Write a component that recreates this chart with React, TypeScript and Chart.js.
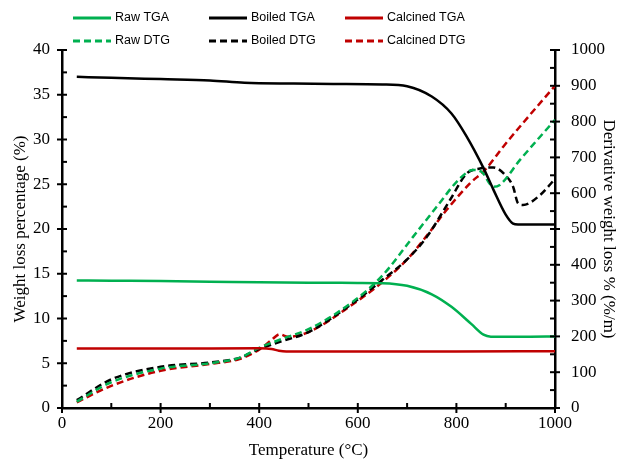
import React, { useEffect, useRef } from 'react';
import { Chart, registerables } from 'chart.js';

Chart.register(...registerables);

// ---- data ----
const rawTgaT = [30, 100, 200, 300, 400, 500, 600, 650, 700, 750, 790, 830, 855, 870, 900, 950, 1000];
const rawTgaV = [14.25, 14.22, 14.18, 14.12, 14.05, 14.0, 13.98, 13.95, 13.65, 12.7, 11.3, 9.4, 8.2, 7.97, 7.95, 7.97, 8.0];

const boiledTgaT = [30, 100, 200, 300, 370, 470, 550, 650, 700, 750, 790, 820, 855, 875, 900, 915, 925, 1000];
const boiledTgaV = [37.0, 36.9, 36.75, 36.6, 36.35, 36.25, 36.2, 36.15, 35.95, 34.8, 32.9, 30.4, 26.8, 24.4, 21.6, 20.6, 20.5, 20.5];

const calcTgaT = [30, 200, 400, 425, 440, 455, 600, 800, 1000];
const calcTgaV = [6.65, 6.65, 6.67, 6.6, 6.4, 6.32, 6.3, 6.3, 6.35];

const rawDtgT = [30, 100, 200, 300, 360, 400, 450, 500, 590, 650, 712, 760, 807, 834, 851, 875, 888, 929, 1000];
const rawDtgV = [18, 72, 110, 125, 140, 168, 195, 220, 297, 370, 478, 562, 641, 665, 660, 618, 623, 693, 805];

const boiledDtgT = [30, 100, 200, 300, 360, 400, 442, 500, 590, 650, 700, 740, 787, 821, 848, 875, 899, 915, 925, 935, 970, 1000];
const boiledDtgV = [22, 80, 115, 127, 140, 165, 185, 212, 293, 358, 415, 478, 581, 655, 669, 672, 651, 618, 572, 567, 595, 640];

const calcDtgT = [30, 100, 200, 300, 360, 400, 425, 442, 458, 500, 590, 650, 700, 733, 780, 828, 858, 895, 935, 1000];
const calcDtgV = [16, 62, 104, 123, 137, 163, 190, 206, 199, 212, 290, 352, 415, 469, 553, 628, 665, 730, 796, 900];

const labels = ['Raw TGA', 'Boiled TGA', 'Calcined TGA', 'Raw DTG', 'Boiled DTG', 'Calcined DTG'];

const GREEN = '#00B050';
const BLACK = '#000000';
const RED = '#C00000';

const pts = (t: number[], v: number[]) => t.map((x, i) => ({ x, y: v[i] }));

const SERIF = '"Times New Roman", "Liberation Serif", serif';
const plain = (v: any) => String(v);

const tickPlugin = {
  id: 'tickMarks',
  afterDraw(chart: any) {
    const ctx = chart.ctx;
    const { x, y, y2 } = chart.scales;
    const a = chart.chartArea;
    ctx.save();
    ctx.strokeStyle = '#000';
    ctx.lineWidth = 2;
    const line = (x1: number, y1: number, x2: number, y2_: number) => {
      ctx.beginPath();
      ctx.moveTo(x1, y1);
      ctx.lineTo(x2, y2_);
      ctx.stroke();
    };
    for (let v = 0; v <= 1000; v += 100) {
      const px = x.getPixelForValue(v);
      if (v % 200 === 0) line(px, a.bottom - 5, px, a.bottom + 5);
      else line(px, a.bottom - 5, px, a.bottom);
    }
    for (let v = 0; v <= 40; v += 2.5) {
      const py = y.getPixelForValue(v);
      if (v % 5 === 0) line(a.left - 5, py, a.left + 5, py);
      else line(a.left, py, a.left + 5, py);
    }
    for (let v = 0; v <= 1000; v += 50) {
      const py = y2.getPixelForValue(v);
      if (v % 100 === 0) line(a.right - 5, py, a.right + 5, py);
      else line(a.right - 5, py, a.right, py);
    }
    ctx.restore();
  },
};

const legendPlugin = {
  id: 'gridLegend',
  afterDraw(chart: any) {
    const ctx = chart.ctx;
    const colX = [73, 209, 345];
    const rowY = [18, 41];
    ctx.save();
    ctx.font = '12.5px "Liberation Sans", Arial, sans-serif';
    ctx.textBaseline = 'middle';
    ctx.textAlign = 'left';
    chart.data.datasets.forEach((ds: any, i: number) => {
      const cx = colX[i % 3];
      const cy = rowY[Math.floor(i / 3)];
      ctx.strokeStyle = ds.borderColor;
      ctx.lineWidth = 3;
      ctx.setLineDash(ds.borderDash || []);
      ctx.beginPath();
      ctx.moveTo(cx, cy);
      ctx.lineTo(cx + 38, cy);
      ctx.stroke();
      ctx.setLineDash([]);
      ctx.fillStyle = '#000';
      ctx.fillText(ds.label, cx + 42, cy);
    });
    ctx.restore();
  },
};

export default function App() {
  const ref = useRef<HTMLCanvasElement>(null);
  useEffect(() => {
    if (!ref.current) return;
    const mk = (i: number, t: number[], v: number[], color: string, axis: string, dashed: boolean) => ({
      label: labels[i],
      data: pts(t, v),
      borderColor: color,
      backgroundColor: color,
      borderWidth: 2.5,
      borderDash: dashed ? [7, 4] : [],
      pointRadius: 0,
      tension: 0.4,
      cubicInterpolationMode: 'monotone',
      yAxisID: axis,
      fill: false,
    });
    const chart = new Chart(ref.current, {
      type: 'line',
      data: {
        datasets: [
          mk(0, rawTgaT, rawTgaV, GREEN, 'y', false),
          mk(1, boiledTgaT, boiledTgaV, BLACK, 'y', false),
          mk(2, calcTgaT, calcTgaV, RED, 'y', false),
          mk(3, rawDtgT, rawDtgV, GREEN, 'y2', true),
          mk(4, boiledDtgT, boiledDtgV, BLACK, 'y2', true),
          mk(5, calcDtgT, calcDtgV, RED, 'y2', true),
        ] as any,
      },
      options: {
        responsive: false,
        animation: false,
        layout: { padding: { top: 50, left: 0, right: 0, bottom: 0 } },
        plugins: { legend: { display: false }, tooltip: { enabled: false } },
        scales: {
          x: {
            type: 'linear',
            min: 0,
            max: 1000,
            ticks: { stepSize: 200, color: '#000', font: { family: SERIF, size: 17 }, padding: 5, maxRotation: 0, callback: plain },
            grid: { display: false, drawTicks: false },
            border: { display: true, color: '#000', width: 2.5 },
            title: { display: true, text: 'Temperature (°C)', color: '#000', font: { family: SERIF, size: 17, lineHeight: 1 }, padding: { top: 0, bottom: 3 } },
            afterFit: (s: any) => { s.height = 54; },
          },
          y: {
            type: 'linear',
            position: 'left',
            min: 0,
            max: 40,
            ticks: { stepSize: 5, color: '#000', font: { family: SERIF, size: 17 }, padding: 12, callback: plain },
            grid: { display: false, drawTicks: false },
            border: { display: true, color: '#000', width: 2.5 },
            title: { display: true, text: 'Weight loss percentage (%)', color: '#000', font: { family: SERIF, size: 17, lineHeight: 1 }, padding: { top: 12, bottom: 0 } },
            afterFit: (s: any) => { s.width = 62; },
          },
          y2: {
            type: 'linear',
            position: 'right',
            min: 0,
            max: 1000,
            ticks: { stepSize: 100, color: '#000', font: { family: SERIF, size: 17 }, padding: 16, callback: plain },
            grid: { display: false, drawTicks: false },
            border: { display: true, color: '#000', width: 2.5 },
            title: { display: true, text: 'Derivative weight loss % (%/m)', color: '#000', font: { family: SERIF, size: 17, lineHeight: 1 }, padding: { top: 0, bottom: 0 } },
            afterFit: (s: any) => { s.width = 62; },
          },
        },
      } as any,
      plugins: [tickPlugin, legendPlugin],
    });
    return () => chart.destroy();
  }, []);
  return (
    <div style={{ position: 'fixed', left: 0, top: 0, width: 617, height: 462, background: '#fff' }}>
      <canvas ref={ref} width={617} height={462} />
    </div>
  );
}
